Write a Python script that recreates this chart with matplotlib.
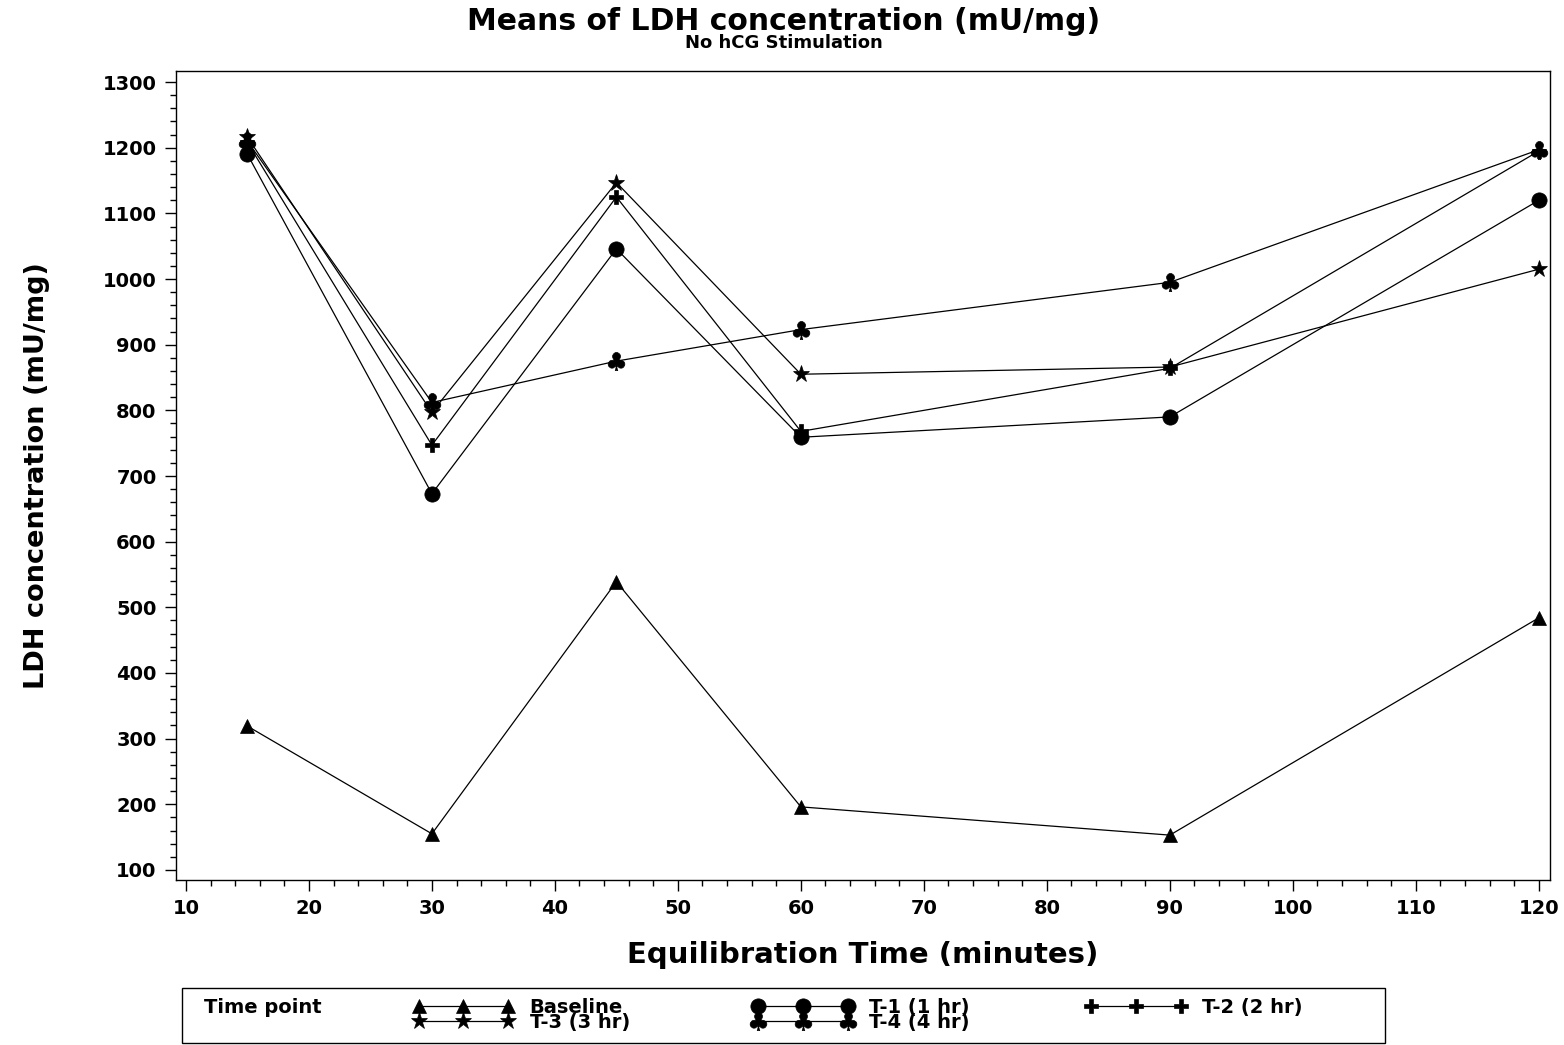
import numpy as np
import matplotlib
matplotlib.use("Agg")
import matplotlib.pyplot as plt
from matplotlib.ticker import MultipleLocator
from matplotlib.patches import Rectangle

plt.rcParams['font.family'] = ['DejaVu Sans']
plt.rcParams['font.weight'] = 'bold'

# temps d'équilibration (minutes)
temps = [15, 30, 45, 60, 90, 120]

# moyennes LDH (mU/mg) par point de mesure
baseline = [319, 155, 539, 196, 153, 484]
t1 = [1190, 673, 1046, 759, 790, 1120]
t2 = [1208, 747, 1125, 768, 864, 1195]
t3 = [1216, 797, 1147, 855, 866, 1015]
t4 = [1210, 812, 875, 923, 995, 1197]

noms = ['Baseline', 'T-1 (1 hr)', 'T-2 (2 hr)', 'T-3 (3 hr)', 'T-4 (4 hr)']
series = [baseline, t1, t2, t3, t4]
marqueurs = ['^', 'o', 'P', '*', r'$\clubsuit$']
tailles = [10.5, 11, 10.5, 12.5, 13]

fig = plt.figure(figsize=(15.64, 10.45), dpi=100)
ax = fig.add_axes([0.1125, 0.158, 0.8785, 0.774])

lignes = []
for y, nom, m, s in zip(series, noms, marqueurs, tailles):
    l, = ax.plot(temps, y, color='black', lw=0.9, marker=m, ms=s,
                 markerfacecolor='black', markeredgecolor='black',
                 markeredgewidth=0.5, label=nom)
    lignes.append(l)

ax.set_xlim(9.19, 120.9)
ax.set_ylim(84.8, 1316.8)
ax.xaxis.set_minor_locator(MultipleLocator(2))
ax.yaxis.set_minor_locator(MultipleLocator(20))
ax.set_xticks(np.arange(10, 121, 10))
ax.set_yticks(np.arange(100, 1301, 100))
ax.tick_params(which='major', direction='out', length=8, width=1, labelsize=14, pad=6)
ax.tick_params(which='minor', direction='out', length=4.5, width=1)
for lab in ax.get_xticklabels() + ax.get_yticklabels():
    lab.set_fontweight('bold')
for sp in ax.spines.values():
    sp.set_linewidth(1)

ax.set_xlabel('Equilibration Time (minutes)', fontsize=21, fontweight='bold', labelpad=16)
ax.set_ylabel('LDH concentration (mU/mg)', fontsize=19.5, fontweight='bold', labelpad=38)

fig.text(0.501, 0.979, 'Means of LDH concentration (mU/mg)', ha='center', va='center',
         fontsize=21.5, fontweight='bold')
fig.text(0.501, 0.959, 'No hCG Stimulation', ha='center', va='center',
         fontsize=13, fontweight='bold')

# cadre de légende
fig.patches.append(Rectangle((0.1164, 0.002), 0.769, 0.0526, transform=fig.transFigure,
                             fill=False, edgecolor='black', lw=1))
fig.text(0.1305, 0.0355, 'Time point', ha='left', va='center', fontsize=14, fontweight='bold')

colonnes = [([lignes[0], lignes[3]], 0.264),
            ([lignes[1], lignes[4]], 0.481),
            ([lignes[2]], 0.694)]
for handles, x0 in colonnes:
    leg = fig.legend(handles=handles, labels=[h.get_label() for h in handles],
                     loc='upper left', bbox_to_anchor=(x0, 0.045), frameon=False,
                     numpoints=3, handlelength=5.2, handletextpad=0.8,
                     labelspacing=-0.2, borderpad=0, borderaxespad=0,
                     prop={'size': 14, 'weight': 'bold'})

fig.savefig('out.png', dpi=100)
